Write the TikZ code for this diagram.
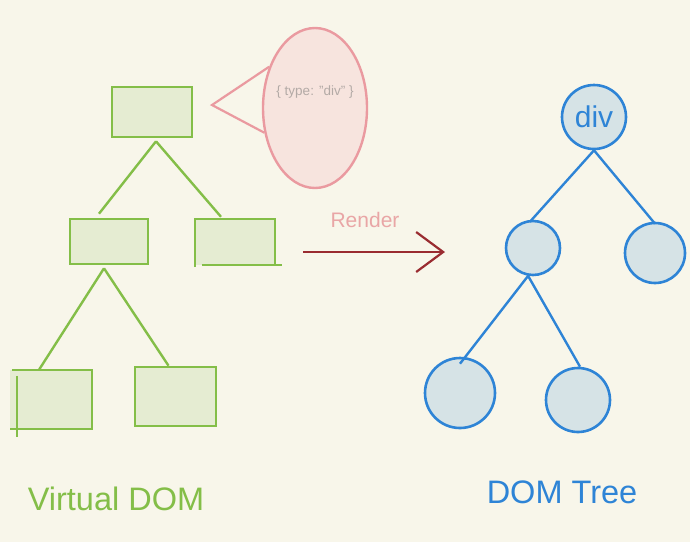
\documentclass[tikz,border=0pt]{standalone}
\usepackage{fontspec}
\setmainfont{Liberation Sans}
\usetikzlibrary{shapes.geometric,arrows.meta}
\definecolor{bg}{HTML}{F8F6EA}
\definecolor{vgreen}{HTML}{84BE48}
\definecolor{vfill}{HTML}{E5ECD2}
\definecolor{dblue}{HTML}{2E84D6}
\definecolor{dfill}{HTML}{D6E3E6}
\definecolor{pinkline}{HTML}{EA9AA0}
\definecolor{pinkfill}{HTML}{F7E4DE}
\definecolor{greytext}{HTML}{B3AAA6}
\definecolor{rendertext}{HTML}{E9A6A6}
\definecolor{arrowred}{HTML}{9A2C31}
\begin{document}
\begin{tikzpicture}[x=1pt,y=-1pt,
  vbox/.style={draw=vgreen, fill=vfill, line width=2.6pt, inner sep=0pt},
  vboxfill/.style={fill=vfill, inner sep=0pt},
  vline/.style={draw=vgreen, line width=2.4pt},
  dcirc/.style={circle, draw=dblue, fill=dfill, line width=2.6pt, inner sep=0pt},
  dline/.style={draw=dblue, line width=2.4pt},
  lbl/.style={font=\fontsize{32.5}{36}\selectfont, inner sep=0pt}]
\fill[bg] (0,0) rectangle (690,542);
\useasboundingbox (0,0) rectangle (690,542);

% Virtual DOM boxes
\node[vbox, minimum width=80pt, minimum height=50pt] (vtop) at (152,112) {};
\node[vbox, minimum width=78pt, minimum height=45pt] (vml) at (109,241.5) {};
\node[vboxfill, minimum width=80pt, minimum height=46pt] (vmr) at (235,242) {};
\node[vboxfill, minimum width=82pt, minimum height=59pt] (vbl) at (51,399.5) {};
\node[vbox, minimum width=81pt, minimum height=59pt] (vbr) at (175.5,396.5) {};

% sketchy outlines
\draw[vline] ([yshift=-2pt]vmr.south west) -- (vmr.north west) -- (vmr.north east) -- (vmr.south east);
\draw[vline] ([xshift=7pt]vmr.south west) -- ([xshift=7pt]vmr.south east);
\draw[vline] ([xshift=2pt]vbl.north west) -- (vbl.north east) -- (vbl.south east) -- (vbl.south west);
\draw[vline] ([xshift=7pt,yshift=-6pt]vbl.north west) -- ([xshift=7pt,yshift=-8pt]vbl.south west);

% Virtual DOM connectors
\draw[vline] ([xshift=4pt,yshift=-3pt]vtop.south) -- ([xshift=-10pt,yshift=4pt]vml.north);
\draw[vline] ([xshift=4pt,yshift=-3pt]vtop.south) -- ([xshift=-14pt,yshift=2pt]vmr.north);
\draw[vline] ([xshift=-5pt,yshift=-3pt]vml.south) -- ([xshift=-12pt]vbl.north);
\draw[vline] ([xshift=-5pt,yshift=-3pt]vml.south) -- ([xshift=-7pt]vbr.north);

% speech bubble
\node[ellipse, draw=pinkline, fill=pinkfill, line width=2.4pt, minimum width=104pt, minimum height=160pt, inner sep=0pt] (bubble) at (315,108) {};
\coordinate (ptip) at (212,105);
\draw[pinkline, line width=2.2pt] (bubble.138) -- (ptip) -- (bubble.206);
\node[text=greytext, font=\fontsize{13.5}{16}\selectfont, inner sep=0pt] (vtype) at (315,92) {\{ type: "div" \}};

% Render arrow
\coordinate (rstart) at (303,252);
\coordinate (rend) at (445,252);
\draw[arrowred, line width=2.2pt, -{Straight Barb[length=27pt,width=40pt,line width=2.2pt]}] (rstart) -- (rend);
\node[text=rendertext, font=\fontsize{21}{24}\selectfont, inner sep=0pt] (rtext) at (365,220) {Render};

% DOM tree
\node[dcirc, minimum size=64pt, text=dblue, font=\fontsize{30}{32}\selectfont] (d0) at (594,117) {div};
\node[dcirc, minimum size=54pt] (d1) at (533,248) {};
\node[dcirc, minimum size=60pt] (d2) at (655,253) {};
\node[dcirc, minimum size=70pt] (d3) at (460,393) {};
\node[dcirc, minimum size=64pt] (d4) at (578,400) {};

\draw[dline] (d0.south) -- ([xshift=-3pt,yshift=-2pt]d1.north);
\draw[dline] (d0.south) -- ([yshift=-2pt]d2.north);
\draw[dline] (d1.-100) -- ([yshift=-7pt]d3.north);
\draw[dline] (d1.-100) -- ([xshift=2pt]d4.north);

% labels
\node[lbl, text=vgreen] (vlabel) at (116,499) {Virtual DOM};
\node[lbl, text=dblue] (dlabel) at (562,492) {DOM Tree};
\end{tikzpicture}
\end{document}
